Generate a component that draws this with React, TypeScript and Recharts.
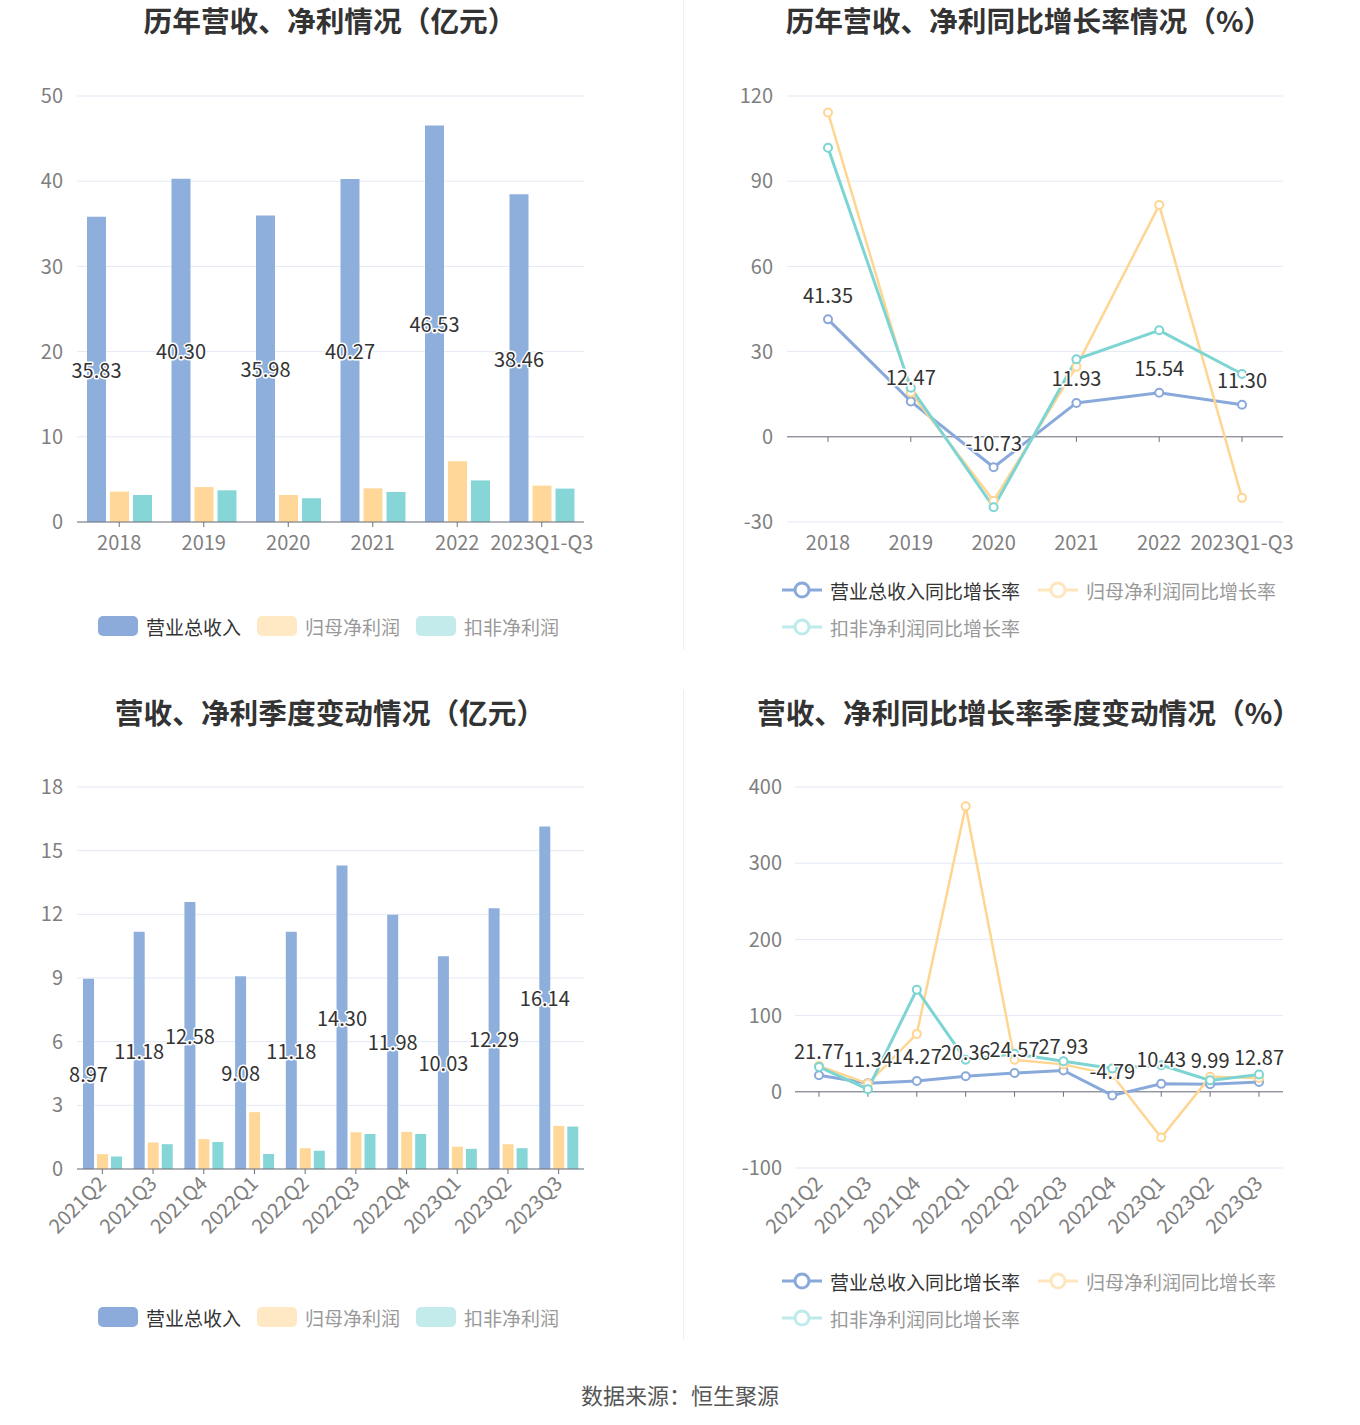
import React from 'react';
import { BarChart, Bar, LineChart, Line, XAxis, YAxis, CartesianGrid, Legend, LabelList, ReferenceLine } from 'recharts';

const years = ['2018', '2019', '2020', '2021', '2022', '2023Q1-Q3'];
const yearRevenue = [35.83, 40.30, 35.98, 40.27, 46.53, 38.46];
const yearParentProfit = [3.57, 4.10, 3.17, 3.95, 7.13, 4.27];
const yearDeductedProfit = [3.17, 3.72, 2.79, 3.53, 4.88, 3.92];

const yearRevenueGrowth = [41.35, 12.47, -10.73, 11.93, 15.54, 11.30];
const yearParentGrowth = [114.2, 15.6, -22.5, 24.7, 81.6, -21.5];
const yearDeductedGrowth = [101.8, 17.3, -24.8, 27.3, 37.5, 22.1];

const quarters = ['2021Q2', '2021Q3', '2021Q4', '2022Q1', '2022Q2', '2022Q3', '2022Q4', '2023Q1', '2023Q2', '2023Q3'];
const quarterRevenue = [8.97, 11.18, 12.58, 9.08, 11.18, 14.30, 11.98, 10.03, 12.29, 16.14];
const quarterParentProfit = [0.70, 1.25, 1.41, 2.68, 0.98, 1.73, 1.75, 1.05, 1.17, 2.03];
const quarterDeductedProfit = [0.59, 1.17, 1.27, 0.71, 0.86, 1.65, 1.65, 0.95, 0.98, 2.00];

const quarterRevenueGrowth = [21.77, 11.34, 14.27, 20.36, 24.57, 27.93, -4.79, 10.43, 9.99, 12.87];
const quarterParentGrowth = [34, 10.8, 76, 374.6, 42, 36, 22, -60, 19.6, 18];
const quarterDeductedGrowth = [32.7, 3.4, 134, 42, 50, 40, 30.5, 35, 15, 22.6];

const yearTicks = [0, 10, 20, 30, 40, 50];
const yearGrowthTicks = [-30, 0, 30, 60, 90, 120];
const quarterTicks = [0, 3, 6, 9, 12, 15, 18];
const quarterGrowthTicks = [-100, 0, 100, 200, 300, 400];

const barNames = ['营业总收入', '归母净利润', '扣非净利润'];
const lineNames = ['营业总收入同比增长率', '归母净利润同比增长率', '扣非净利润同比增长率'];

const yearBars = years.map((name, i) => ({
  name, revenue: yearRevenue[i], parent: yearParentProfit[i], deducted: yearDeductedProfit[i],
}));
const yearLines = years.map((name, i) => ({
  name, revenue: yearRevenueGrowth[i], parent: yearParentGrowth[i], deducted: yearDeductedGrowth[i],
}));
const quarterBars = quarters.map((name, i) => ({
  name, revenue: quarterRevenue[i], parent: quarterParentProfit[i], deducted: quarterDeductedProfit[i],
}));
const quarterLines = quarters.map((name, i) => ({
  name, revenue: quarterRevenueGrowth[i], parent: quarterParentGrowth[i], deducted: quarterDeductedGrowth[i],
}));

const FONT = "'Noto Sans CJK SC', 'Noto Sans', sans-serif";
const BLUE = '#8EAEDC';
const YELLOW = '#FFD899';
const TEAL = '#86D6D8';
const LINE_BLUE = '#8AA9DB';
const LINE_YELLOW = '#FFD592';
const LINE_TEAL = '#7DD5D3';
const GRID = '#E4E9F5';
const AXIS = '#6E7079';
const TICK_COLOR = '#7F7F7F';
const TICK = { fill: TICK_COLOR, fontSize: 20, fontFamily: FONT };

const outlined = (x: number, y: number, value: any) => (
  <text
    x={x}
    y={y}
    textAnchor="middle"
    dominantBaseline="central"
    fontSize={20}
    fontFamily={FONT}
    fill="#333"
    stroke="#fff"
    strokeWidth={3}
    strokeLinejoin="round"
    paintOrder="stroke"
  >
    {Number(value).toFixed(2)}
  </text>
);

const centerLabel = (props: any) => {
  const vb = props.viewBox || props;
  return outlined(vb.x + (vb.width || 0) / 2, vb.y + (vb.height || 0) / 2, props.value);
};

const topLabel = (props: any) => {
  const vb = props.viewBox || props;
  return outlined(vb.x + (vb.width || 0) / 2, vb.y - 25, props.value);
};

const RotatedTick = (props: any) => {
  const { x, y, payload } = props;
  return (
    <g transform={`translate(${x},${y})`}>
      <text textAnchor="end" fill={TICK_COLOR} fontSize={20} fontFamily={FONT} transform="rotate(-45)" dy="0.35em">
        {payload.value}
      </text>
    </g>
  );
};

const barLegendItems = [
  { name: barNames[0], icon: '#8CABDB', text: '#333' },
  { name: barNames[1], icon: '#FFE8C4', text: '#999' },
  { name: barNames[2], icon: '#C3EBEB', text: '#999' },
];

const lineLegendItems = [
  { name: lineNames[0], icon: '#8AA9DB', text: '#333' },
  { name: lineNames[1], icon: '#FFE6BD', text: '#999' },
  { name: lineNames[2], icon: '#BDEBEA', text: '#999' },
];

const BarLegend = () => (
  <div style={{ display: 'flex', alignItems: 'center', columnGap: 16, fontSize: 19, fontFamily: FONT }}>
    {barLegendItems.map((it) => (
      <div key={it.name} style={{ display: 'flex', alignItems: 'center', height: 22 }}>
        <div style={{ width: 40, height: 20, borderRadius: 5, background: it.icon }} />
        <span style={{ marginLeft: 8, color: it.text, whiteSpace: 'nowrap' }}>{it.name}</span>
      </div>
    ))}
  </div>
);

const LineLegend = () => (
  <div style={{ display: 'flex', flexWrap: 'wrap', width: 520, rowGap: 15, columnGap: 18, fontSize: 19, fontFamily: FONT }}>
    {lineLegendItems.map((it) => (
      <div key={it.name} style={{ display: 'flex', alignItems: 'center', height: 22 }}>
        <svg width={40} height={22}>
          <line x1={0} x2={40} y1={11} y2={11} stroke={it.icon} strokeWidth={3} />
          <circle cx={20} cy={11} r={7} fill="#fff" stroke={it.icon} strokeWidth={3} />
        </svg>
        <span style={{ marginLeft: 8, color: it.text, whiteSpace: 'nowrap' }}>{it.name}</span>
      </div>
    ))}
  </div>
);

const titleStyle = (cx: number, top: number): React.CSSProperties => ({
  position: 'absolute',
  left: cx - 300,
  top,
  width: 600,
  textAlign: 'center',
  fontSize: 28.7,
  fontWeight: 700,
  color: '#333',
  fontFamily: FONT,
  lineHeight: '30px',
});

const dot = (color: string) => ({ r: 4, fill: '#fff', stroke: color, strokeWidth: 2 });

export default function App() {
  return (
    <div style={{ position: 'absolute', left: 0, top: 0, width: 1360, height: 1425, background: '#fff', fontFamily: FONT }}>
      <div style={{ position: 'absolute', left: 683, top: 0, width: 1, height: 650, background: '#EEE' }} />
      <div style={{ position: 'absolute', left: 683, top: 690, width: 1, height: 650, background: '#EEE' }} />

      <div style={titleStyle(330, 5)}>历年营收、净利情况（亿元）</div>
      <div style={titleStyle(1029, 5)}>历年营收、净利同比增长率情况（%）</div>
      <div style={titleStyle(330, 697)}>营收、净利季度变动情况（亿元）</div>
      <div style={titleStyle(1029, 697)}>营收、净利同比增长率季度变动情况（%）</div>

      <div style={{ position: 'absolute', left: 0, top: 0 }}>
        <BarChart width={680} height={650} data={yearBars} margin={{ top: 96, right: 96, left: 0, bottom: 98 }} barGap={4} barSize={19}>
          <CartesianGrid vertical={false} stroke={GRID} />
          <XAxis dataKey="name" interval={0} height={30} tick={TICK} axisLine={{ stroke: AXIS }} tickLine={{ stroke: AXIS }} tickSize={5} tickMargin={9} />
          <YAxis domain={[0, 50]} ticks={yearTicks} width={77} axisLine={false} tickLine={false} tickSize={0} tickMargin={14} tick={TICK} />
          <Bar dataKey="revenue" name={barNames[0]} fill={BLUE} isAnimationActive={false}>
            <LabelList dataKey="revenue" content={centerLabel} />
          </Bar>
          <Bar dataKey="parent" name={barNames[1]} fill={YELLOW} isAnimationActive={false} />
          <Bar dataKey="deducted" name={barNames[2]} fill={TEAL} isAnimationActive={false} />
          <Legend layout="horizontal" verticalAlign="middle" align="center" wrapperStyle={{ left: 98, top: 615, width: 520, height: 22 }} content={() => <BarLegend />} />
        </BarChart>
      </div>

      <div style={{ position: 'absolute', left: 680, top: 0 }}>
        <LineChart width={680} height={650} data={yearLines} margin={{ top: 96, right: 77, left: 0, bottom: 98 }}>
          <CartesianGrid vertical={false} stroke={GRID} />
          <XAxis dataKey="name" interval={0} height={30} padding={{ left: 41, right: 41 }} tick={TICK} axisLine={false} tickLine={false} tickSize={0} tickMargin={14} />
          <YAxis domain={[-30, 120]} ticks={yearGrowthTicks} width={107} axisLine={false} tickLine={false} tickSize={0} tickMargin={14} tick={TICK} />
          <ReferenceLine y={0} stroke={AXIS} />
          {years.map((c) => (
            <ReferenceLine key={c} segment={[{ x: c, y: 0 }, { x: c, y: -1.8 }]} stroke={AXIS} />
          ))}
          <Line dataKey="revenue" name={lineNames[0]} stroke={LINE_BLUE} strokeWidth={3} dot={dot(LINE_BLUE)} isAnimationActive={false}>
            <LabelList dataKey="revenue" content={topLabel} />
          </Line>
          <Line dataKey="parent" name={lineNames[1]} stroke={LINE_YELLOW} strokeWidth={2.5} dot={dot(LINE_YELLOW)} isAnimationActive={false} />
          <Line dataKey="deducted" name={lineNames[2]} stroke={LINE_TEAL} strokeWidth={3} dot={dot(LINE_TEAL)} isAnimationActive={false} />
          <Legend layout="horizontal" verticalAlign="middle" align="center" wrapperStyle={{ left: 102, top: 579, width: 540, height: 60 }} content={() => <LineLegend />} />
        </LineChart>
      </div>

      <div style={{ position: 'absolute', left: 0, top: 690 }}>
        <BarChart width={680} height={650} data={quarterBars} margin={{ top: 97, right: 96, left: 0, bottom: 91 }} barGap={3} barSize={11}>
          <CartesianGrid vertical={false} stroke={GRID} />
          <XAxis dataKey="name" interval={0} height={80} tick={<RotatedTick />} axisLine={{ stroke: AXIS }} tickLine={{ stroke: AXIS }} tickSize={5} tickMargin={6} />
          <YAxis domain={[0, 18]} ticks={quarterTicks} width={77} axisLine={false} tickLine={false} tickSize={0} tickMargin={14} tick={TICK} />
          <Bar dataKey="revenue" name={barNames[0]} fill={BLUE} isAnimationActive={false}>
            <LabelList dataKey="revenue" content={centerLabel} />
          </Bar>
          <Bar dataKey="parent" name={barNames[1]} fill={YELLOW} isAnimationActive={false} />
          <Bar dataKey="deducted" name={barNames[2]} fill={TEAL} isAnimationActive={false} />
          <Legend layout="horizontal" verticalAlign="middle" align="center" wrapperStyle={{ left: 98, top: 616, width: 520, height: 22 }} content={() => <BarLegend />} />
        </BarChart>
      </div>

      <div style={{ position: 'absolute', left: 680, top: 690 }}>
        <LineChart width={680} height={650} data={quarterLines} margin={{ top: 97, right: 77, left: 0, bottom: 92 }}>
          <CartesianGrid vertical={false} stroke={GRID} />
          <XAxis dataKey="name" interval={0} height={80} padding={{ left: 24, right: 24 }} tick={<RotatedTick />} axisLine={false} tickLine={false} tickSize={0} tickMargin={12} />
          <YAxis domain={[-100, 400]} ticks={quarterGrowthTicks} width={115} axisLine={false} tickLine={false} tickSize={0} tickMargin={13} tick={TICK} />
          <ReferenceLine y={0} stroke={AXIS} />
          {quarters.map((c) => (
            <ReferenceLine key={c} segment={[{ x: c, y: 0 }, { x: c, y: -6.5 }]} stroke={AXIS} />
          ))}
          <Line dataKey="revenue" name={lineNames[0]} stroke={LINE_BLUE} strokeWidth={3} dot={dot(LINE_BLUE)} isAnimationActive={false}>
            <LabelList dataKey="revenue" content={topLabel} />
          </Line>
          <Line dataKey="parent" name={lineNames[1]} stroke={LINE_YELLOW} strokeWidth={2.5} dot={dot(LINE_YELLOW)} isAnimationActive={false} />
          <Line dataKey="deducted" name={lineNames[2]} stroke={LINE_TEAL} strokeWidth={3} dot={dot(LINE_TEAL)} isAnimationActive={false} />
          <Legend layout="horizontal" verticalAlign="middle" align="center" wrapperStyle={{ left: 102, top: 580, width: 540, height: 60 }} content={() => <LineLegend />} />
        </LineChart>
      </div>

      <div style={{ position: 'absolute', left: 0, top: 1381, width: 1360, textAlign: 'center', fontSize: 22, color: '#555', fontFamily: FONT, lineHeight: '26px' }}>
        数据来源：恒生聚源
      </div>
    </div>
  );
}
